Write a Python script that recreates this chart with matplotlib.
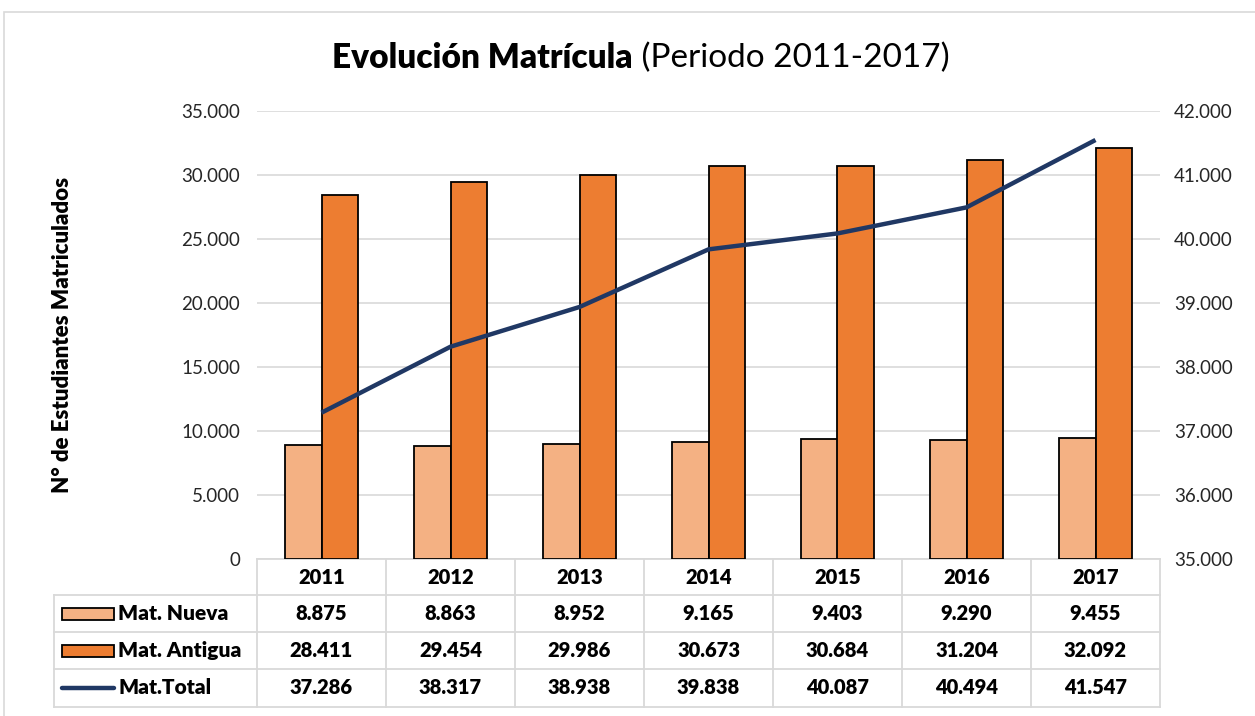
import matplotlib.pyplot as plt
import matplotlib.transforms as mtransforms
from matplotlib.patches import Rectangle
from matplotlib.lines import Line2D
import numpy as np

plt.rcParams['font.family'] = ['Lato', 'DejaVu Sans']

years = ['2011', '2012', '2013', '2014', '2015', '2016', '2017']
mat_nueva = [8875, 8863, 8952, 9165, 9403, 9290, 9455]
mat_antigua = [28411, 29454, 29986, 30673, 30684, 31204, 32092]
mat_total = [37286, 38317, 38938, 39838, 40087, 40494, 41547]
series_names = ['Mat. Nueva', 'Mat. Antigua', 'Mat.Total']

c_nueva = '#F4B183'
c_antigua = '#ED7D31'
c_total = '#203864'
grid_c = '#d9d9d9'


def fmt(v):
    return f'{v:,.0f}'.replace(',', '.')


fig = plt.figure(figsize=(12.55, 7.16), dpi=100)
W, H = 1255, 716
ax = fig.add_axes([257 / W, 1 - 559 / H, (1160 - 257) / W, (559 - 111) / H])
ax2 = ax.twinx()

# outer chart border
fig.patches.append(Rectangle((4 / W, -0.01), 1.0, 1 - 12 / H + 0.01, transform=fig.transFigure,
                             fill=False, edgecolor=grid_c, lw=1.2))

x = np.arange(len(years))
bw = 0.28
ax.bar(x - bw / 2, mat_nueva, bw, color=c_nueva, edgecolor='black', lw=1.3, zorder=3)
ax.bar(x + bw / 2, mat_antigua, bw, color=c_antigua, edgecolor='black', lw=1.3, zorder=3)
ax2.plot(x, mat_total, color=c_total, lw=3.2, solid_capstyle='butt', zorder=4)

ax.set_xlim(-0.5, len(years) - 0.5)
ax.set_ylim(0, 35000)
ax.set_yticks(np.arange(0, 35001, 5000))
ax.set_yticklabels([fmt(v) for v in np.arange(0, 35001, 5000)])
ax2.set_ylim(35000, 42000)
ax2.set_yticks(np.arange(35000, 42001, 1000))
ax2.set_yticklabels([fmt(v) for v in np.arange(35000, 42001, 1000)])
ax.yaxis.grid(True, color=grid_c, lw=1.2, zorder=0)
ax.set_axisbelow(True)
ax.set_xticks([])
for a in (ax, ax2):
    for s in a.spines.values():
        s.set_visible(False)
    a.tick_params(axis='y', length=0, labelsize=13.5, colors='#262626')
ax.tick_params(axis='y', pad=12)
ax2.tick_params(axis='y', pad=10)
ax2.set_zorder(ax.get_zorder() + 1)
ax2.patch.set_visible(False)

ax.set_ylabel('N° de Estudiantes Matriculados', fontsize=16, fontweight='heavy')
ax.yaxis.set_label_coords(-184 / 903, 0.5)

# title
fig.text(633 / W, 1 - 58 / H, 'Evolución Matrícula', ha='right', va='center',
         fontsize=24, fontweight='heavy')
fig.text(633 / W, 1 - 58 / H, ' (Periodo 2011-2017)', ha='left', va='center', fontsize=24)

# data table
trans = mtransforms.blended_transform_factory(ax.transData, ax.transAxes)
ph = 448.0
row_px = [559, 595, 632, 669, 707]
ry = [(559 - r) / ph for r in row_px]
left_ax = (54 - 257) / 903
tl = dict(color=grid_c, lw=1.3, clip_on=False)

# horizontal lines
ax.plot([-0.5, 6.5], [ry[0], ry[0]], transform=trans, **tl)
for r in ry[1:]:
    ax.plot([left_ax, 1], [r, r], transform=ax.transAxes, **tl)
# vertical lines
for b in np.arange(-0.5, 7, 1):
    ax.plot([b, b], [ry[0], ry[-1]], transform=trans, **tl)
ax.plot([left_ax, left_ax], [ry[1], ry[-1]], transform=ax.transAxes, **tl)

for i, yr in enumerate(years):
    ax.text(i, (ry[0] + ry[1]) / 2, yr, transform=trans, ha='center', va='center',
            fontsize=14.5, fontweight='heavy', clip_on=False)
for row, vals in enumerate([mat_nueva, mat_antigua, mat_total]):
    yc = (ry[row + 1] + ry[row + 2]) / 2
    for i, v in enumerate(vals):
        ax.text(i, yc, fmt(v), transform=trans, ha='center', va='center',
                fontsize=14.5, fontweight='heavy', clip_on=False)
    ax.text((118 - 257) / 903, yc, series_names[row], transform=ax.transAxes,
            ha='left', va='center', fontsize=15, fontweight='heavy', clip_on=False)
    sx0, sx1 = (62 - 257) / 903, (114 - 257) / 903
    if row < 2:
        ax.add_patch(Rectangle((sx0, yc - 6 / ph), sx1 - sx0, 12 / ph, transform=ax.transAxes,
                               facecolor=[c_nueva, c_antigua][row], edgecolor='black',
                               lw=1.3, clip_on=False))
    else:
        ax.add_line(Line2D([sx0, sx1], [yc, yc], transform=ax.transAxes, color=c_total,
                           lw=3.2, solid_capstyle='round', clip_on=False))

fig.savefig('out.png', dpi=100)
